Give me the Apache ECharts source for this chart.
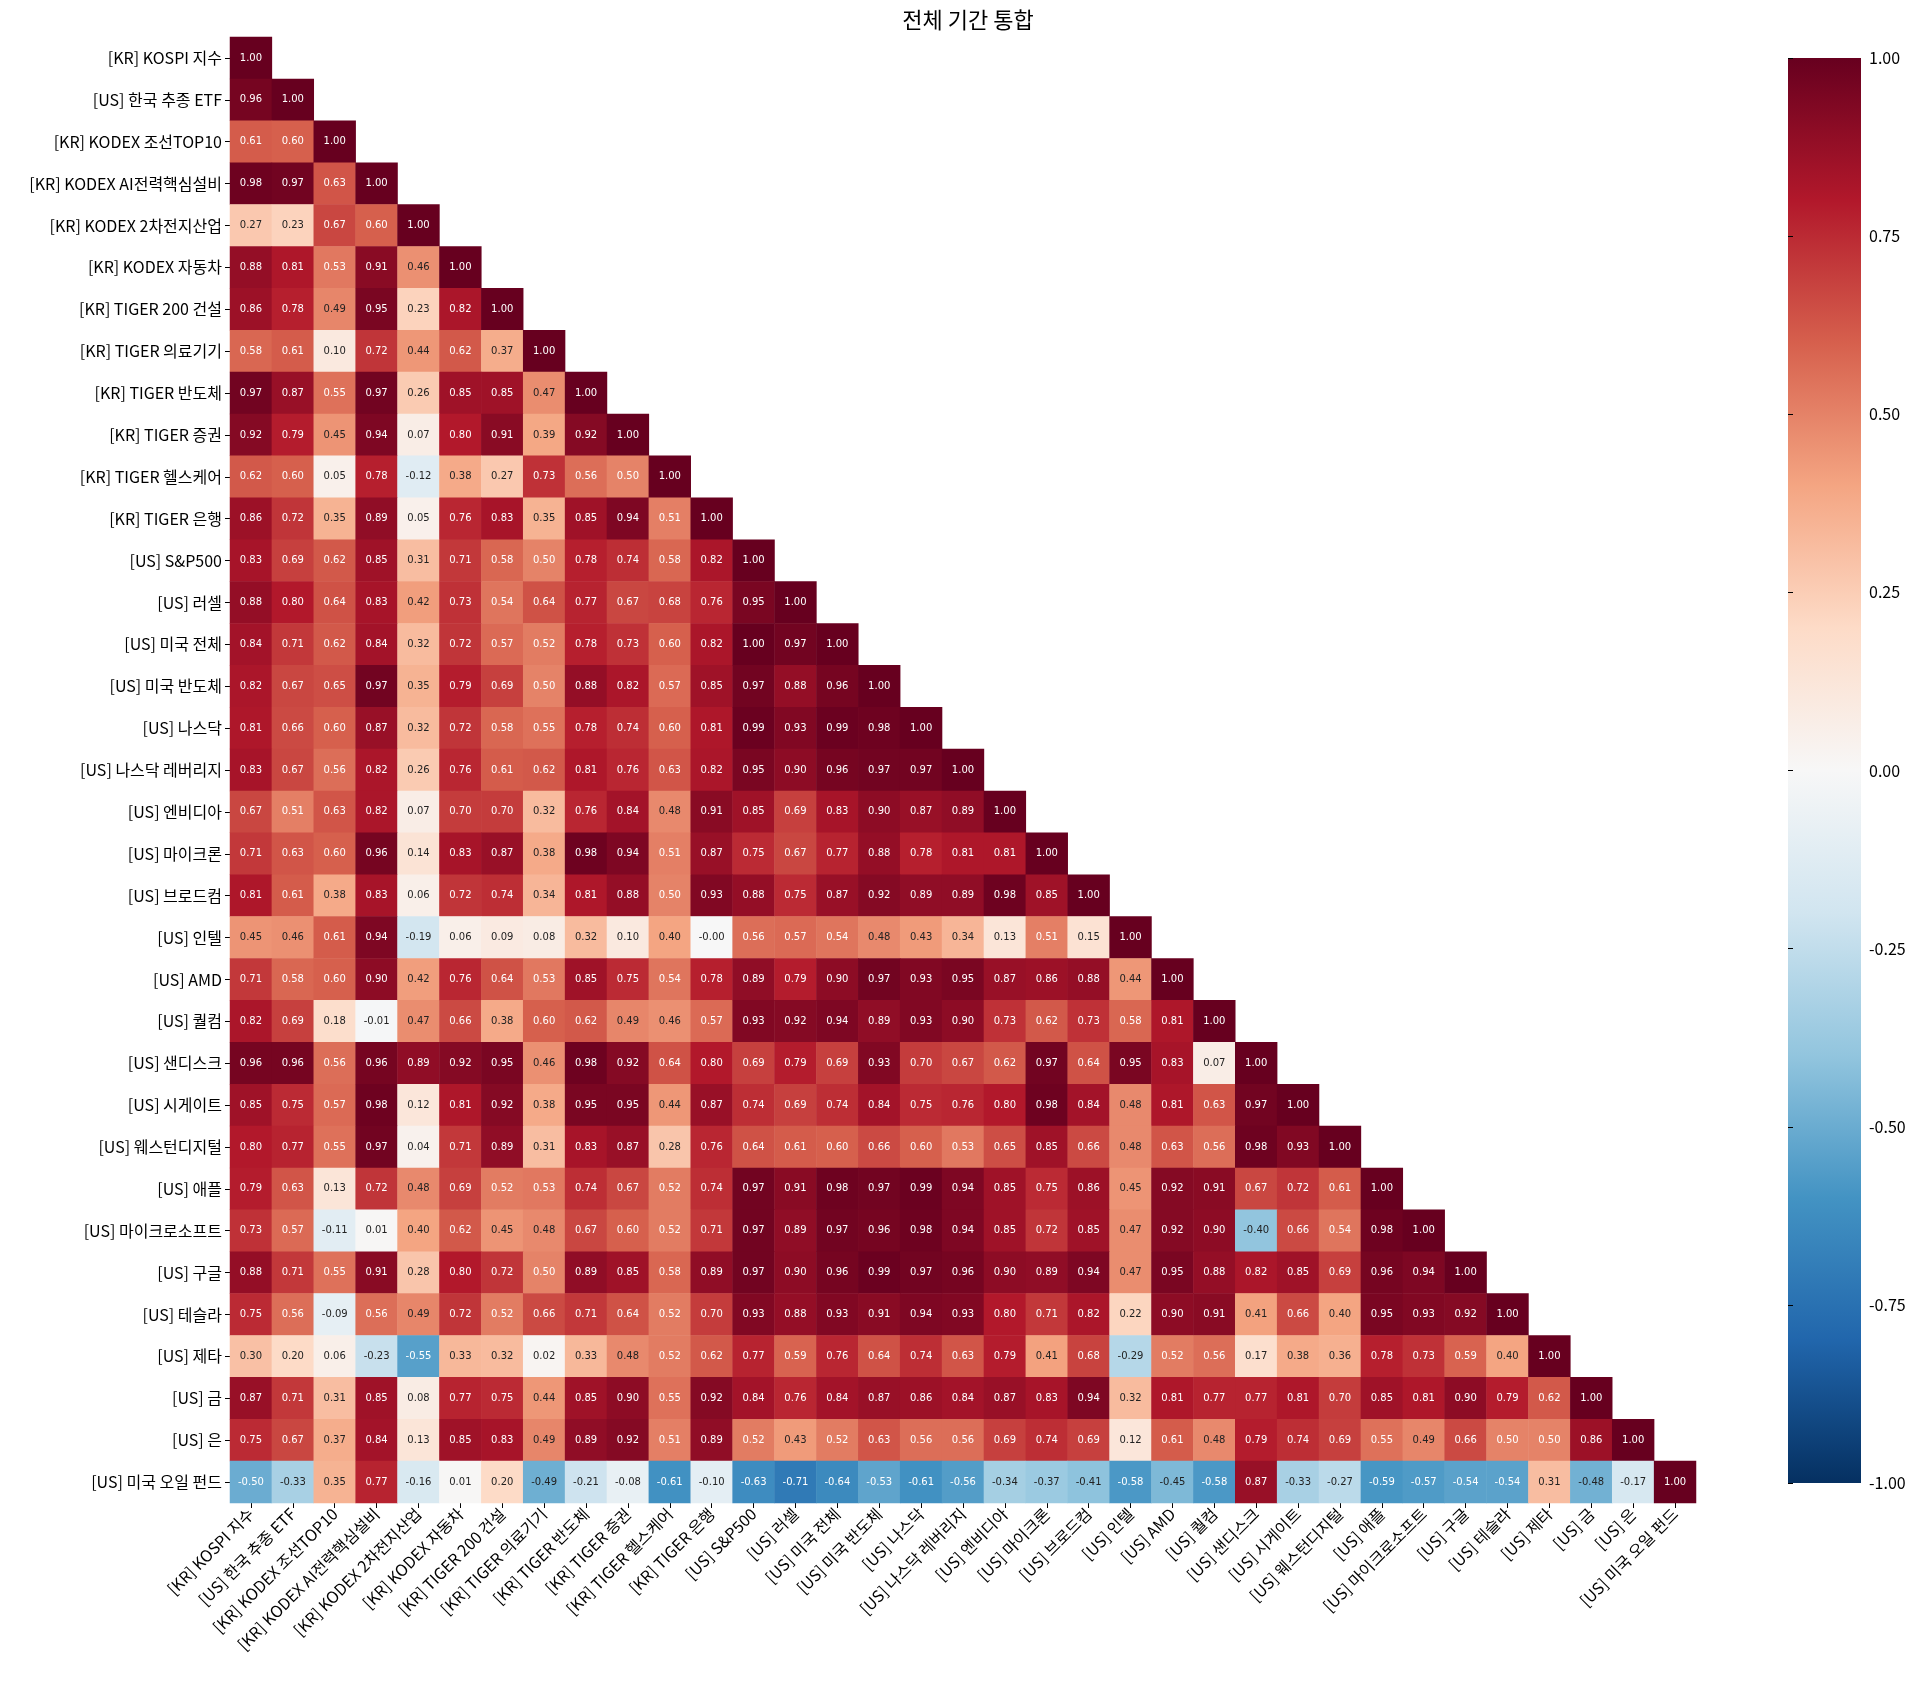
<!DOCTYPE html>
<html><head><meta charset="utf-8">
<script src="https://cdn.jsdelivr.net/npm/echarts@6/dist/echarts.min.js"></script>
<style>html,body{margin:0;background:#fff}#chart{width:1920px;height:1686px}</style>
</head><body><div id="chart"></div>
<script>
const labels = ["[KR] KOSPI 지수","[US] 한국 추종 ETF","[KR] KODEX 조선TOP10","[KR] KODEX AI전력핵심설비","[KR] KODEX 2차전지산업","[KR] KODEX 자동차","[KR] TIGER 200 건설","[KR] TIGER 의료기기","[KR] TIGER 반도체","[KR] TIGER 증권","[KR] TIGER 헬스케어","[KR] TIGER 은행","[US] S&P500","[US] 러셀","[US] 미국 전체","[US] 미국 반도체","[US] 나스닥","[US] 나스닥 레버리지","[US] 엔비디아","[US] 마이크론","[US] 브로드컴","[US] 인텔","[US] AMD","[US] 퀄컴","[US] 샌디스크","[US] 시게이트","[US] 웨스턴디지털","[US] 애플","[US] 마이크로소프트","[US] 구글","[US] 테슬라","[US] 제타","[US] 금","[US] 은","[US] 미국 오일 펀드"];
// lower triangle rows, including diagonal
const corrRows = [
[1],
[.96,1],
[.61,.60,1],
[.98,.97,.63,1],
[.27,.23,.67,.60,1],
[.88,.81,.53,.91,.46,1],
[.86,.78,.49,.95,.23,.82,1],
[.58,.61,.10,.72,.44,.62,.37,1],
[.97,.87,.55,.97,.26,.85,.85,.47,1],
[.92,.79,.45,.94,.07,.80,.91,.39,.92,1],
[.62,.60,.05,.78,-.12,.38,.27,.73,.56,.50,1],
[.86,.72,.35,.89,.05,.76,.83,.35,.85,.94,.51,1],
[.83,.69,.62,.85,.31,.71,.58,.50,.78,.74,.58,.82,1],
[.88,.80,.64,.83,.42,.73,.54,.64,.77,.67,.68,.76,.95,1],
[.84,.71,.62,.84,.32,.72,.57,.52,.78,.73,.60,.82,1.00,.97,1],
[.82,.67,.65,.97,.35,.79,.69,.50,.88,.82,.57,.85,.97,.88,.96,1],
[.81,.66,.60,.87,.32,.72,.58,.55,.78,.74,.60,.81,.99,.93,.99,.98,1],
[.83,.67,.56,.82,.26,.76,.61,.62,.81,.76,.63,.82,.95,.90,.96,.97,.97,1],
[.67,.51,.63,.82,.07,.70,.70,.32,.76,.84,.48,.91,.85,.69,.83,.90,.87,.89,1],
[.71,.63,.60,.96,.14,.83,.87,.38,.98,.94,.51,.87,.75,.67,.77,.88,.78,.81,.81,1],
[.81,.61,.38,.83,.06,.72,.74,.34,.81,.88,.50,.93,.88,.75,.87,.92,.89,.89,.98,.85,1],
[.45,.46,.61,.94,-.19,.06,.09,.08,.32,.10,.40,-.001,.56,.57,.54,.48,.43,.34,.13,.51,.15,1],
[.71,.58,.60,.90,.42,.76,.64,.53,.85,.75,.54,.78,.89,.79,.90,.97,.93,.95,.87,.86,.88,.44,1],
[.82,.69,.18,-.01,.47,.66,.38,.60,.62,.49,.46,.57,.93,.92,.94,.89,.93,.90,.73,.62,.73,.58,.81,1],
[.96,.96,.56,.96,.89,.92,.95,.46,.98,.92,.64,.80,.69,.79,.69,.93,.70,.67,.62,.97,.64,.95,.83,.07,1],
[.85,.75,.57,.98,.12,.81,.92,.38,.95,.95,.44,.87,.74,.69,.74,.84,.75,.76,.80,.98,.84,.48,.81,.63,.97,1],
[.80,.77,.55,.97,.04,.71,.89,.31,.83,.87,.28,.76,.64,.61,.60,.66,.60,.53,.65,.85,.66,.48,.63,.56,.98,.93,1],
[.79,.63,.13,.72,.48,.69,.52,.53,.74,.67,.52,.74,.97,.91,.98,.97,.99,.94,.85,.75,.86,.45,.92,.91,.67,.72,.61,1],
[.73,.57,-.11,.01,.40,.62,.45,.48,.67,.60,.52,.71,.97,.89,.97,.96,.98,.94,.85,.72,.85,.47,.92,.90,-.40,.66,.54,.98,1],
[.88,.71,.55,.91,.28,.80,.72,.50,.89,.85,.58,.89,.97,.90,.96,.99,.97,.96,.90,.89,.94,.47,.95,.88,.82,.85,.69,.96,.94,1],
[.75,.56,-.09,.56,.49,.72,.52,.66,.71,.64,.52,.70,.93,.88,.93,.91,.94,.93,.80,.71,.82,.22,.90,.91,.41,.66,.40,.95,.93,.92,1],
[.30,.20,.06,-.23,-.55,.33,.32,.02,.33,.48,.52,.62,.77,.59,.76,.64,.74,.63,.79,.41,.68,-.29,.52,.56,.17,.38,.36,.78,.73,.59,.40,1],
[.87,.71,.31,.85,.08,.77,.75,.44,.85,.90,.55,.92,.84,.76,.84,.87,.86,.84,.87,.83,.94,.32,.81,.77,.77,.81,.70,.85,.81,.90,.79,.62,1],
[.75,.67,.37,.84,.13,.85,.83,.49,.89,.92,.51,.89,.52,.43,.52,.63,.56,.56,.69,.74,.69,.12,.61,.48,.79,.74,.69,.55,.49,.66,.50,.50,.86,1],
[-.50,-.33,.35,.77,-.16,.01,.20,-.49,-.21,-.08,-.61,-.10,-.63,-.71,-.64,-.53,-.61,-.56,-.34,-.37,-.41,-.58,-.45,-.58,.87,-.33,-.27,-.59,-.57,-.54,-.54,.31,-.48,-.17,1]
];
const colorbarTicks = [-1, -0.75, -0.5, -0.25, 0, 0.25, 0.5, 0.75, 1];
const rdbu = ['#053061','#2166ac','#4393c3','#92c5de','#d1e5f0','#f7f7f7','#fddbc7','#f4a582','#d6604d','#b2182b','#67001f'];

const font = "'Noto Sans CJK KR', 'Noto Sans', sans-serif";
const cells = [];
corrRows.forEach((row, r) => row.forEach((v, c) => cells.push([c, r, v])));

const chart = echarts.init(document.getElementById("chart"), null, { renderer: "canvas" });
const gLeft = 230, gTop = 37, gSize = 1466;
const cb = { left: 1788, top: 58, width: 73, height: 1425 };
chart.setOption({
  textStyle: { fontFamily: font },
  title: { text: "전체 기간 통합", left: gLeft + gSize / 2, textAlign: "center", top: 4,
    textStyle: { fontSize: 22, fontWeight: "normal", color: "#000", fontFamily: font } },
  grid: [
    { left: gLeft, top: gTop, width: gSize, height: gSize },
    { left: cb.left, top: cb.top, width: cb.width, height: cb.height }
  ],
  xAxis: [
    { type: "category", data: labels, gridIndex: 0, axisLine: { show: false },
      axisTick: { show: true, length: 5, lineStyle: { color: "#000" }, alignWithLabel: true },
      axisLabel: { rotate: 45, interval: 0, fontSize: 16, color: "#000", fontFamily: font }, splitLine: { show: false } },
    { type: "value", gridIndex: 1, show: false, min: 0, max: 1 }
  ],
  yAxis: [
    { type: "category", data: labels, inverse: true, gridIndex: 0, axisLine: { show: false },
      axisTick: { show: true, length: 5, lineStyle: { color: "#000" }, alignWithLabel: true },
      axisLabel: { interval: 0, fontSize: 16, color: "#000", fontFamily: font }, splitLine: { show: false } },
    { type: "value", gridIndex: 1, position: "right", min: -1, max: 1, interval: 0.25,
      axisLine: { show: false }, splitLine: { show: false },
      axisTick: { show: true, length: 5, lineStyle: { color: "#000" } },
      axisLabel: { fontSize: 16, color: "#000", formatter: (v) => v.toFixed(2) } }
  ],
  visualMap: { show: false, min: -1, max: 1, seriesIndex: 0, inRange: { color: rdbu } },
  graphic: [{
    type: "rect", left: cb.left, top: cb.top, z: 0,
    shape: { width: cb.width, height: cb.height },
    style: { fill: new echarts.graphic.LinearGradient(0, 1, 0, 0,
      rdbu.map((c, i) => ({ offset: i / (rdbu.length - 1), color: c }))) }
  }],
  series: [
    { type: "heatmap", xAxisIndex: 0, yAxisIndex: 0,
      data: cells.map((d) => ({ value: d,
        label: { color: Math.abs(d[2]) >= 0.5 ? "#fff" : "#222" } })),
      label: { show: true, fontSize: 10, fontFamily: "DejaVu Sans",
        formatter: (p) => p.value[2].toFixed(2) },
      itemStyle: { borderWidth: 0 },
      emphasis: { disabled: true } },
    { type: "scatter", xAxisIndex: 1, yAxisIndex: 1, data: colorbarTicks.map((t) => [0, t]), symbolSize: 0, silent: true }
  ]
});
</script></body></html>
